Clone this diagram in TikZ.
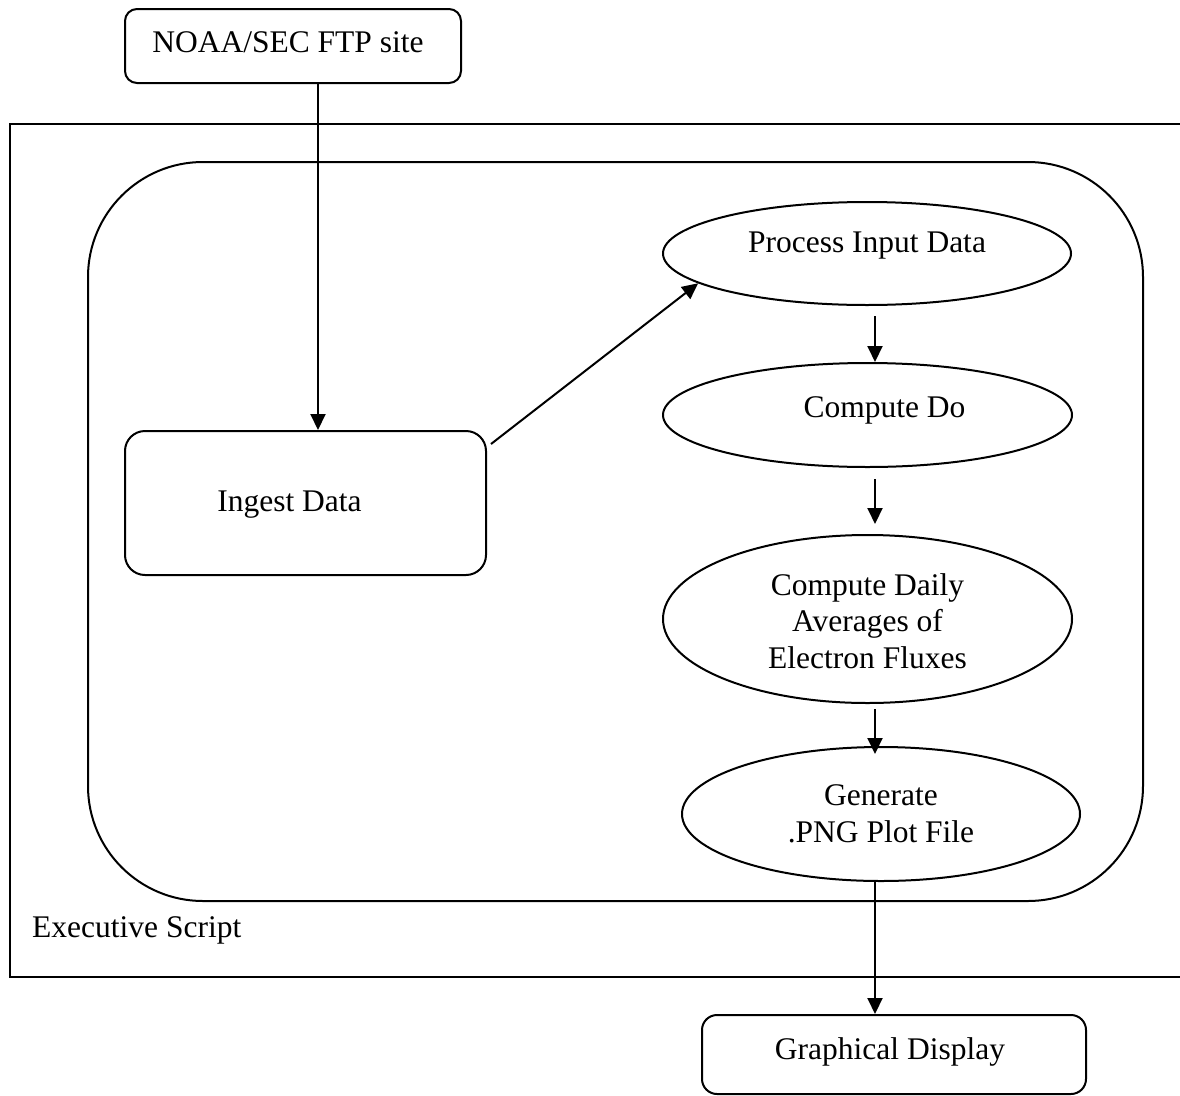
\documentclass[tikz,border=0pt]{standalone}
\usepackage{fontspec}
\setmainfont{Liberation Serif}
\usetikzlibrary{arrows.meta,shapes.geometric}

\tikzset{
  line/.style={line width=2pt, black},
  arr/.style={line, -{Triangle[length=16pt,width=15pt]}},
  boxnode/.style={line, draw, rectangle, inner sep=0pt},
  ovalnode/.style={line, draw, ellipse, inner sep=0pt},
  lbl/.style={inner sep=0pt, align=center},
}

\begin{document}
\begin{tikzpicture}[x=1pt, y=-1pt,
  font=\fontsize{31.5}{36.5}\selectfont]
  \useasboundingbox (0,0) rectangle (1180,1095);
  \clip (0,0) rectangle (1180,1095);

  % frame of the executive script and the processing loop
  \node[boxnode, minimum width=1180pt, minimum height=853pt] (exec) at (600,550.5) {};
  \node[boxnode, rounded corners=115pt, minimum width=1055pt, minimum height=739pt] (loop) at (615.5,531.5) {};
  \node[lbl, anchor=base west] (execlbl) at (32,937) {Executive Script};

  % source, ingest and display boxes
  \node[boxnode, rounded corners=12pt, minimum width=336pt, minimum height=74pt,
        label={[lbl,xshift=-5pt,yshift=4pt]center:NOAA/SEC FTP site}] (noaa) at (293,46) {};
  \node[boxnode, rounded corners=20pt, minimum width=361pt, minimum height=144pt,
        label={[lbl,xshift=-16pt,yshift=-2pt]center:Ingest Data}] (ingest) at (305.5,503) {};
  \node[boxnode, rounded corners=15pt, minimum width=384pt, minimum height=79pt,
        label={[lbl,xshift=-4pt,yshift=3pt]center:Graphical Display}] (display) at (894,1054.5) {};

  % processing steps
  \node[ovalnode, minimum width=408pt, minimum height=103pt,
        label={[lbl,yshift=7.5pt]center:Process Input Data}] (process) at (867,253.5) {};
  \node[ovalnode, minimum width=409pt, minimum height=104pt,
        label={[lbl,xshift=17pt,yshift=5pt]center:Compute Do}] (computedo) at (867.5,415) {};
  \node[ovalnode, minimum width=409pt, minimum height=168pt,
        label={[lbl,yshift=-2pt]center:Compute Daily\\Averages of\\Electron Fluxes}] (daily) at (867.5,619) {};
  \node[ovalnode, minimum width=398pt, minimum height=134pt,
        label={[lbl]center:Generate\\.PNG Plot File}] (generate) at (881,814) {};

  % connectors
  \coordinate (ftpx) at (318,0);
  \coordinate (flowx) at (875,0);
  \draw[arr] (noaa.south -| ftpx) -- (ingest.north -| ftpx);
  \draw[arr] ([xshift=4pt,yshift=-14pt]ingest.north east) -- (process.190);
  \draw[arr, shorten <=10pt] (process.south -| flowx) -- (computedo.north -| flowx);
  \draw[arr, shorten <=11pt, shorten >=10pt] (computedo.south -| flowx) -- (daily.north -| flowx);
  \draw[arr, shorten <=5pt, shorten >=-8pt] (daily.south -| flowx) -- (generate.north -| flowx);
  \draw[arr] (generate.south -| flowx) -- (display.north -| flowx);
\end{tikzpicture}
\end{document}
